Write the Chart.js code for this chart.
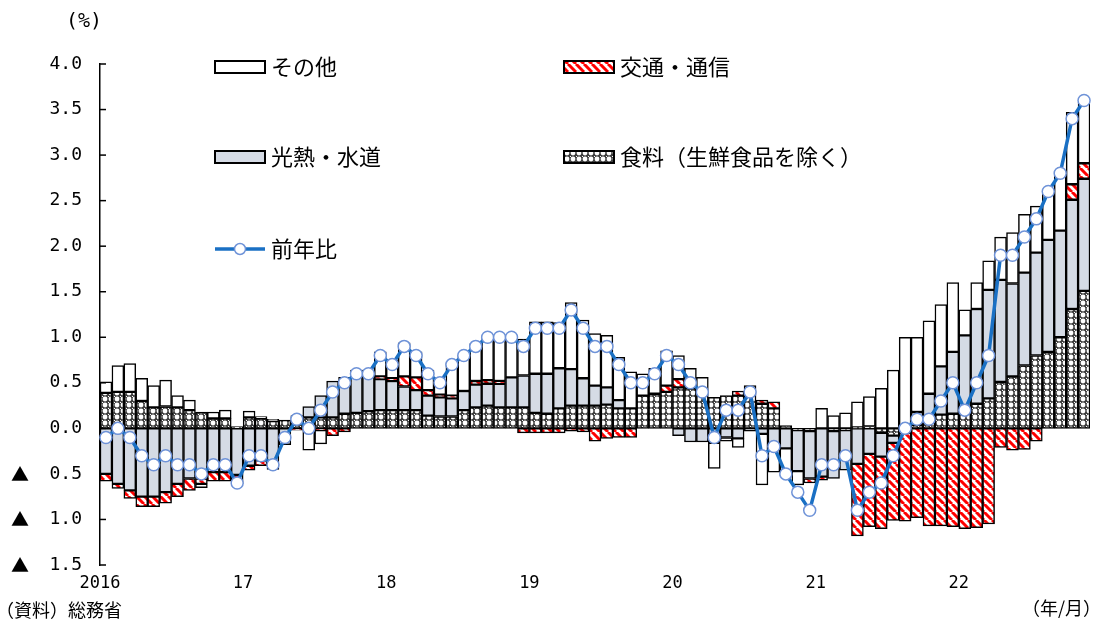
<!DOCTYPE html>
<html lang="ja">
<head>
<meta charset="UTF-8">
<title>消費者物価（生鮮食品を除く総合）の前年比と寄与度</title>
<script src="https://cdn.jsdelivr.net/npm/chart.js"></script>
<style>
  html, body { margin: 0; padding: 0; background: #ffffff; }
  #wrap { width: 1110px; height: 635px; position: relative; }
</style>
</head>
<body>
<div id="wrap"><canvas id="cpiChart"></canvas></div>
<script>
// 年ラベル（各年1月の位置に表示）
const yearLabels = ['2016', '17', '18', '19', '20', '21', '22'];
const startYear = 2016;
const monthCount = 83; // 2016/1 - 2022/11

// 寄与度（%ポイント）
const food = [
  0.39, 0.40, 0.40, 0.30, 0.23, 0.24, 0.23, 0.20, 0.18, 0.11, 0.11, 0.02,
  0.12, 0.11, 0.08, 0.09, 0.10, 0.12, 0.12, 0.12, 0.16, 0.17, 0.19, 0.20,
  0.20, 0.20, 0.20, 0.14, 0.13, 0.13, 0.20, 0.23, 0.25, 0.23, 0.23, 0.23,
  0.17, 0.16, 0.22, 0.25, 0.25, 0.25, 0.26, 0.22, 0.22, 0.36, 0.38, 0.40,
  0.45, 0.44, 0.40, 0.34, 0.36, 0.36, 0.40, 0.27, 0.22, 0.03, -0.02, -0.03,
  0.00, -0.03, -0.02, 0.01, 0.02, -0.05, -0.08, 0.00, 0.04, 0.10, 0.15, 0.16,
  0.16, 0.27, 0.33, 0.51, 0.57, 0.69, 0.80, 0.84, 1.00, 1.31, 1.51
];
const energy = [
  -0.50, -0.61, -0.68, -0.75, -0.75, -0.70, -0.61, -0.55, -0.55, -0.48, -0.48, -0.51,
  -0.41, -0.35, -0.40, -0.10, 0.04, 0.12, 0.24, 0.40, 0.40, 0.47, 0.45, 0.34,
  0.32, 0.26, 0.22, 0.22, 0.21, 0.20, 0.21, 0.25, 0.24, 0.26, 0.33, 0.35,
  0.43, 0.44, 0.44, 0.40, 0.30, 0.22, 0.19, 0.09, 0.00, 0.00, 0.00, 0.00,
  -0.08, -0.15, -0.15, -0.16, -0.10, -0.11, -0.03, -0.06, -0.21, -0.22, -0.45, -0.52,
  -0.53, -0.52, -0.44, -0.39, -0.28, -0.26, -0.08, -0.05, 0.14, 0.28, 0.53, 0.68,
  0.86, 1.04, 1.19, 1.12, 1.02, 1.02, 1.13, 1.23, 1.17, 1.20, 1.23
];
const transport = [
  -0.08, -0.05, -0.09, -0.11, -0.11, -0.12, -0.14, -0.13, -0.06, -0.10, -0.10, -0.07,
  -0.05, -0.06, -0.05, -0.03, -0.02, 0.00, -0.02, -0.08, -0.04, 0.00, 0.00, 0.03,
  0.03, 0.11, 0.14, 0.06, 0.03, 0.03, 0.00, 0.04, 0.04, 0.03, 0.00, -0.05,
  -0.05, -0.05, -0.05, -0.03, -0.04, -0.14, -0.11, -0.10, -0.10, 0.00, 0.00, 0.07,
  0.09, 0.00, 0.00, 0.00, 0.00, 0.05, 0.02, 0.04, 0.07, 0.00, 0.00, -0.05,
  -0.04, 0.00, 0.00, -0.79, -0.80, -0.79, -0.85, -0.97, -0.98, -1.07, -1.07, -1.08,
  -1.10, -1.09, -1.05, -0.21, -0.24, -0.23, -0.14, 0.00, 0.00, 0.17, 0.17
];
const others = [
  0.12, 0.29, 0.31, 0.25, 0.24, 0.29, 0.13, 0.11, -0.04, 0.07, 0.09, -0.03,
  0.07, 0.02, 0.02, -0.05, 0.00, -0.24, -0.15, 0.00, 0.00, 0.00, 0.00, 0.27,
  0.20, 0.37, 0.28, 0.22, 0.16, 0.36, 0.39, 0.41, 0.47, 0.48, 0.45, 0.40,
  0.57, 0.57, 0.50, 0.73, 0.64, 0.57, 0.57, 0.47, 0.40, 0.24, 0.28, 0.38,
  0.26, 0.22, 0.16, -0.28, -0.04, -0.10, 0.05, -0.56, -0.27, -0.30, -0.15, 0.00,
  0.22, 0.14, 0.17, 0.28, 0.33, 0.44, 0.64, 1.00, 0.82, 0.80, 0.68, 0.76,
  0.28, 0.29, 0.32, 0.47, 0.56, 0.64, 0.51, 0.55, 0.64, 0.79, 0.67
];
// 前年比（%）
const yoy = [
  -0.1, 0.0, -0.1, -0.3, -0.4, -0.3, -0.4, -0.4, -0.5, -0.4, -0.4, -0.6,
  -0.3, -0.3, -0.4, -0.1, 0.1, 0.0, 0.2, 0.4, 0.5, 0.6, 0.6, 0.8,
  0.7, 0.9, 0.8, 0.6, 0.5, 0.7, 0.8, 0.9, 1.0, 1.0, 1.0, 0.9,
  1.1, 1.1, 1.1, 1.3, 1.1, 0.9, 0.9, 0.7, 0.5, 0.5, 0.6, 0.8,
  0.7, 0.5, 0.4, -0.1, 0.2, 0.2, 0.4, -0.3, -0.2, -0.5, -0.7, -0.9,
  -0.4, -0.4, -0.3, -0.9, -0.7, -0.6, -0.3, 0.0, 0.1, 0.1, 0.3, 0.5,
  0.2, 0.5, 0.8, 1.9, 1.9, 2.1, 2.3, 2.6, 2.8, 3.4, 3.6
];

const labels = [];
for (let i = 0; i < monthCount; i++) {
  labels.push((startYear + Math.floor(i / 12)) + '/' + (i % 12 + 1));
}

const numFont = '"DejaVu Sans Mono", monospace';
const jpFont = '"Noto Sans CJK JP", sans-serif';
const grayFill = '#d5dbe5';
const lineBlue = '#1a70c4';

// 斜線（交通・通信）
function makeHatch() {
  const c = document.createElement('canvas');
  c.width = 8; c.height = 8;
  const g = c.getContext('2d');
  g.fillStyle = '#ffffff';
  g.fillRect(0, 0, 8, 8);
  g.strokeStyle = '#ff0000';
  g.lineWidth = 3;
  g.beginPath();
  for (let k = -8; k <= 8; k += 8) {
    g.moveTo(k, 0);
    g.lineTo(k + 8, 8);
  }
  g.stroke();
  return g.createPattern(c, 'repeat');
}

// 網目（食料）
function makeDots() {
  const c = document.createElement('canvas');
  c.width = 6; c.height = 6;
  const g = c.getContext('2d');
  g.fillStyle = '#404040';
  g.fillRect(0, 0, 6, 6);
  g.fillStyle = '#ffffff';
  g.beginPath();
  g.arc(3, 3, 2.4, 0, Math.PI * 2);
  g.fill();
  g.fillRect(0, 0, 1, 1);
  return g.createPattern(c, 'repeat');
}

const hatch = makeHatch();
const dots = makeDots();

// 凡例・注記・▲記号
const extras = {
  id: 'extras',
  afterDraw(chart) {
    const ctx = chart.ctx;
    const y = chart.scales.y;
    const area = chart.chartArea;
    ctx.save();

    // 内向きの目盛り
    ctx.strokeStyle = '#000';
    ctx.lineWidth = 1.5;
    y.ticks.forEach(t => {
      const py = y.getPixelForValue(t.value);
      ctx.beginPath();
      ctx.moveTo(area.left, py);
      ctx.lineTo(area.left + 6, py);
      ctx.stroke();
    });

    // マイナス記号（▲）
    ctx.fillStyle = '#000';
    ctx.font = '18px ' + jpFont;
    ctx.textAlign = 'center';
    ctx.textBaseline = 'middle';
    y.ticks.forEach(t => {
      if (t.value < 0) ctx.fillText('▲', 20, y.getPixelForValue(t.value));
    });

    // 注記
    ctx.font = '20px ' + numFont;
    ctx.fillText('(%)', 84, 22);
    ctx.font = '18px ' + jpFont;
    ctx.textAlign = 'left';
    ctx.fillText('（資料）総務省', -4, 610);
    ctx.fillText('（年/月）', 1022, 608);

    // 凡例
    const boxW = 50, boxH = 12;
    const items = [
      { x: 215, y: 67, fill: '#ffffff', text: 'その他' },
      { x: 564, y: 67, fill: hatch, text: '交通・通信' },
      { x: 215, y: 157, fill: grayFill, text: '光熱・水道' },
      { x: 564, y: 157, fill: dots, text: '食料（生鮮食品を除く）' }
    ];
    ctx.font = '22px ' + jpFont;
    ctx.textBaseline = 'middle';
    items.forEach(it => {
      ctx.fillStyle = it.fill;
      ctx.fillRect(it.x, it.y - boxH / 2, boxW, boxH);
      ctx.strokeStyle = '#000';
      ctx.lineWidth = 2;
      ctx.strokeRect(it.x, it.y - boxH / 2, boxW, boxH);
      ctx.fillStyle = '#000';
      ctx.fillText(it.text, it.x + boxW + 6, it.y);
    });
    // 前年比
    ctx.strokeStyle = lineBlue;
    ctx.lineWidth = 3.5;
    ctx.beginPath();
    ctx.moveTo(215, 249);
    ctx.lineTo(265, 249);
    ctx.stroke();
    ctx.fillStyle = '#fff';
    ctx.strokeStyle = '#6f93d8';
    ctx.lineWidth = 1.5;
    ctx.beginPath();
    ctx.arc(240, 249, 5.5, 0, Math.PI * 2);
    ctx.fill();
    ctx.stroke();
    ctx.fillStyle = '#000';
    ctx.fillText('前年比', 271, 249);

    ctx.restore();
  }
};

const barBase = {
  type: 'bar',
  stack: 'cpi',
  order: 1,
  borderColor: '#000000',
  borderWidth: 1.5,
  borderSkipped: false,
  categoryPercentage: 1.0,
  barPercentage: 1.0
};

new Chart(document.getElementById('cpiChart'), {
  data: {
    labels: labels,
    datasets: [
      {
        type: 'line',
        label: '前年比',
        data: yoy,
        stack: 'line',
        order: 0,
        borderColor: lineBlue,
        borderWidth: 3.5,
        pointRadius: 6,
        pointBackgroundColor: '#ffffff',
        pointBorderColor: '#6f93d8',
        pointBorderWidth: 1.5,
        tension: 0
      },
      Object.assign({}, barBase, { label: '食料（生鮮食品を除く）', data: food, backgroundColor: dots }),
      Object.assign({}, barBase, { label: '光熱・水道', data: energy, backgroundColor: grayFill }),
      Object.assign({}, barBase, { label: '交通・通信', data: transport, backgroundColor: hatch }),
      Object.assign({}, barBase, { label: 'その他', data: others, backgroundColor: '#ffffff' })
    ]
  },
  options: {
    responsive: true,
    maintainAspectRatio: false,
    animation: false,
    layout: { padding: { top: 64, right: 20, bottom: 0, left: 0 } },
    plugins: {
      legend: { display: false },
      tooltip: { enabled: false }
    },
    scales: {
      x: {
        stacked: true,
        offset: true,
        grid: { display: false, drawTicks: false },
        border: { display: false },
        ticks: {
          autoSkip: false,
          maxRotation: 0,
          padding: 8,
          labelOffset: -6,
          color: '#000',
          font: { family: numFont, size: 17 },
          callback: (v, i) => (i % 12 === 0 ? yearLabels[i / 12] : '')
        },
        afterFit: s => { s.height = 70; }
      },
      y: {
        stacked: true,
        min: -1.5,
        max: 4.0,
        grid: { display: false, drawTicks: false },
        border: { display: true, color: '#000', width: 1.5 },
        ticks: {
          stepSize: 0.5,
          padding: 18,
          color: '#000',
          font: { family: numFont, size: 18 },
          callback: v => Math.abs(v).toFixed(1)
        },
        afterFit: s => { s.width = 100; }
      }
    }
  },
  plugins: [extras]
});
</script>
</body>
</html>
